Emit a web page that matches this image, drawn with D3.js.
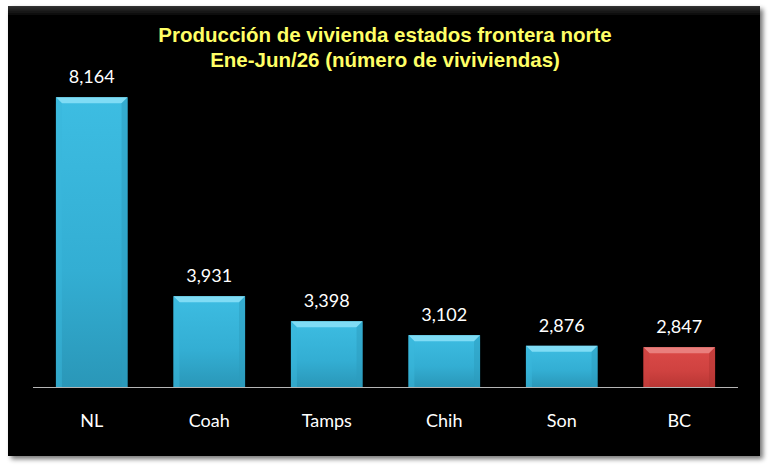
<!DOCTYPE html>
<html>
<head>
<meta charset="utf-8">
<script src="https://cdn.jsdelivr.net/npm/d3@7"></script>
<style>
  body { margin: 0; background: #fff; }
  svg { display: block; }
</style>
</head>
<body>
<svg id="chart"></svg>
<script>
// datos
const estados = ["NL", "Coah", "Tamps", "Chih", "Son", "BC"];
const viviendas = [8164, 3931, 3398, 3102, 2876, 2847];
const destacado = ["BC"];
const titulo = ["Producción de vivienda estados frontera norte",
                "Ene-Jun/26 (número de viviviendas)"];

const W = 770, H = 470;
const svg = d3.select('#chart').attr('width', W).attr('height', H);
const defs = svg.append('defs');

// sombra del panel
const sh = defs.append('filter').attr('id', 'sombra')
  .attr('x', '-5%').attr('y', '-5%').attr('width', '115%').attr('height', '115%');
sh.append('feGaussianBlur').attr('in', 'SourceAlpha').attr('stdDeviation', 2.5);
sh.append('feOffset').attr('dx', 3).attr('dy', 3).attr('result', 'b');
sh.append('feComponentTransfer').append('feFuncA').attr('type', 'linear').attr('slope', 0.55);
const mg = sh.append('feMerge');
mg.append('feMergeNode');
mg.append('feMergeNode').attr('in', 'SourceGraphic');

function grad(id, stops, vertical) {
  const g = defs.append('linearGradient').attr('id', id)
    .attr('x1', 0).attr('y1', 0).attr('x2', vertical ? 0 : 1).attr('y2', vertical ? 1 : 0);
  stops.forEach(s => g.append('stop').attr('offset', s[0]).attr('stop-color', s[1]));
}
grad('panel', [[0, '#333'], [0.02, '#060606'], [1, '#030303']], true);
grad('azul', [[0, '#3dbde2'], [0.6, '#33aed3'], [1, '#2a97b8']], true);
grad('rojo', [[0, '#dc4a48'], [0.6, '#cf4240'], [1, '#b83634']], true);

// panel negro
svg.append('rect')
  .attr('x', 8).attr('y', 6).attr('width', 752).attr('height', 450)
  .attr('fill', 'url(#panel)')
  .attr('filter', 'url(#sombra)');

// escalas
const margin = { left: 33, right: 32, top: 58, bottom: 83 };
const x = d3.scaleBand()
  .domain(estados)
  .range([margin.left, W - margin.right])
  .paddingInner(0.39)
  .paddingOuter(0.195);
const y = d3.scaleLinear()
  .domain([2000, 9000])
  .range([H - margin.bottom, margin.top]);

const data = estados.map((e, i) => ({ estado: e, valor: viviendas[i] }));
const base = y(2000);
const bev = 6;

const barras = svg.append('g').selectAll('g')
  .data(data).enter().append('g');

barras.append('rect')
  .attr('x', d => x(d.estado))
  .attr('y', d => y(d.valor))
  .attr('width', x.bandwidth())
  .attr('height', d => base - y(d.valor))
  .attr('fill', d => destacado.includes(d.estado) ? 'url(#rojo)' : 'url(#azul)');

// biseles
const colBisel = d => destacado.includes(d.estado)
  ? { top: '#e97f7d', side: '#c83f3d', right: '#b03432' }
  : { top: '#7fdcf5', side: '#3ab8dc', right: '#2c9cbe' };

barras.append('path')
  .attr('d', d => {
    const x0 = x(d.estado), x1 = x0 + x.bandwidth(), t = y(d.valor);
    return `M${x0},${t}L${x1},${t}L${x1 - bev},${t + bev}L${x0 + bev},${t + bev}Z`;
  })
  .attr('fill', d => colBisel(d).top);
barras.append('path')
  .attr('d', d => {
    const x0 = x(d.estado), t = y(d.valor);
    return `M${x0},${t}L${x0 + bev},${t + bev}L${x0 + bev},${base}L${x0},${base}Z`;
  })
  .attr('fill', d => colBisel(d).side).attr('opacity', 0.5);
barras.append('path')
  .attr('d', d => {
    const x1 = x(d.estado) + x.bandwidth(), t = y(d.valor);
    return `M${x1},${t}L${x1 - bev},${t + bev}L${x1 - bev},${base}L${x1},${base}Z`;
  })
  .attr('fill', d => colBisel(d).right).attr('opacity', 0.5);

// etiquetas de valor
barras.append('text')
  .attr('x', d => x(d.estado) + x.bandwidth() / 2)
  .attr('y', d => y(d.valor) - 14)
  .attr('text-anchor', 'middle')
  .attr('fill', '#fff')
  .style('font-family', 'Lato, "Open Sans", sans-serif')
  .style('font-size', '18px')
  .text(d => d3.format(',')(d.valor));

// eje x
const eje = svg.append('g')
  .attr('transform', `translate(0, ${base})`)
  .call(d3.axisBottom(x).tickSize(0).tickPadding(27));
eje.select('.domain').attr('stroke', '#b5b5b5').attr('d', `M${margin.left},0.5H${W - margin.right}`);
eje.selectAll('text')
  .attr('fill', '#fff')
  .style('font-family', 'Lato, "Open Sans", sans-serif')
  .style('font-size', '18px');

// título
svg.append('text')
  .attr('x', 385)
  .attr('text-anchor', 'middle')
  .attr('fill', '#ffff66')
  .style('font-family', '"Liberation Sans", Arial, sans-serif')
  .style('font-weight', 'bold')
  .style('font-size', '20.5px')
  .selectAll('tspan')
  .data(titulo).enter().append('tspan')
  .attr('x', 385)
  .attr('y', (d, i) => 42 + i * 25)
  .text(d => d);
</script>
</body>
</html>
